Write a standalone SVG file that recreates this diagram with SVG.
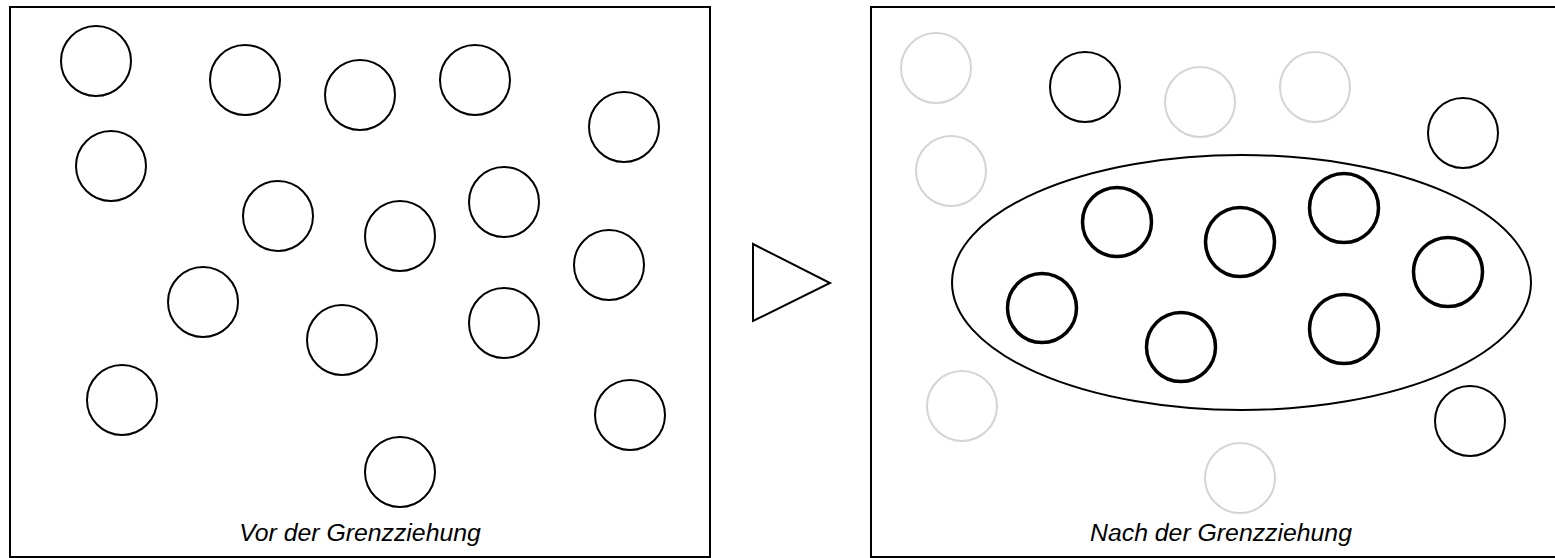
<svg xmlns="http://www.w3.org/2000/svg" width="1555" height="558" viewBox="0 0 1555 558">
<style>
.frame{fill:#fff;stroke:#000;stroke-width:2}
.c{fill:#fff;stroke:#000;stroke-width:2}
.g{fill:#fff;stroke:#d4d4d4;stroke-width:2}
.b{fill:#fff;stroke:#000;stroke-width:3.5}
.lbl{font-family:"Liberation Sans",Arial,Helvetica,sans-serif;font-style:italic;font-size:24.8px;fill:#000;text-anchor:middle}
</style>
<rect width="1555" height="558" fill="#fff"/>
<g id="panel-before">
<rect class="frame" x="10" y="7" width="700" height="550"/>
<circle class="c" cx="96" cy="61" r="35"/>
<circle class="c" cx="245" cy="80" r="35"/>
<circle class="c" cx="360" cy="95" r="35"/>
<circle class="c" cx="475" cy="80" r="35"/>
<circle class="c" cx="624" cy="127" r="35"/>
<circle class="c" cx="111" cy="166" r="35"/>
<circle class="c" cx="278" cy="216" r="35"/>
<circle class="c" cx="400" cy="236" r="35"/>
<circle class="c" cx="504" cy="202" r="35"/>
<circle class="c" cx="609" cy="265" r="35"/>
<circle class="c" cx="203" cy="302" r="35"/>
<circle class="c" cx="342" cy="340" r="35"/>
<circle class="c" cx="504" cy="323" r="35"/>
<circle class="c" cx="122" cy="400" r="35"/>
<circle class="c" cx="630" cy="415" r="35"/>
<circle class="c" cx="400" cy="472" r="35"/>
<text class="lbl" x="360" y="541">Vor der Grenzziehung</text>
</g>
<g id="arrow">
<polygon points="753,244 830,283 753,321" fill="#fff" stroke="#000" stroke-width="2" stroke-linejoin="miter"/>
</g>
<g id="panel-after">
<rect class="frame" x="871" y="7" width="700" height="550"/>
<circle class="g" cx="936" cy="68" r="35"/>
<circle class="c" cx="1085" cy="87" r="35"/>
<circle class="g" cx="1200" cy="102" r="35"/>
<circle class="g" cx="1315" cy="87" r="35"/>
<circle class="c" cx="1463" cy="133" r="35"/>
<circle class="g" cx="951" cy="171" r="35"/>
<circle class="g" cx="962" cy="406" r="35"/>
<circle class="c" cx="1470" cy="421" r="35"/>
<circle class="g" cx="1240" cy="478" r="35"/>
<g id="boundary">
<ellipse cx="1241.5" cy="282.5" rx="289.5" ry="127.5" fill="none" stroke="#000" stroke-width="2"/>
<circle class="b" cx="1117" cy="222" r="34.5"/>
<circle class="b" cx="1240" cy="242" r="34.5"/>
<circle class="b" cx="1344" cy="208" r="34.5"/>
<circle class="b" cx="1448" cy="272" r="34.5"/>
<circle class="b" cx="1042" cy="308" r="34.5"/>
<circle class="b" cx="1181" cy="347" r="34.5"/>
<circle class="b" cx="1344" cy="329" r="34.5"/>
</g>
<text class="lbl" x="1221" y="541">Nach der Grenzziehung</text>
</g>
<g id="connectors"></g>
</svg>
